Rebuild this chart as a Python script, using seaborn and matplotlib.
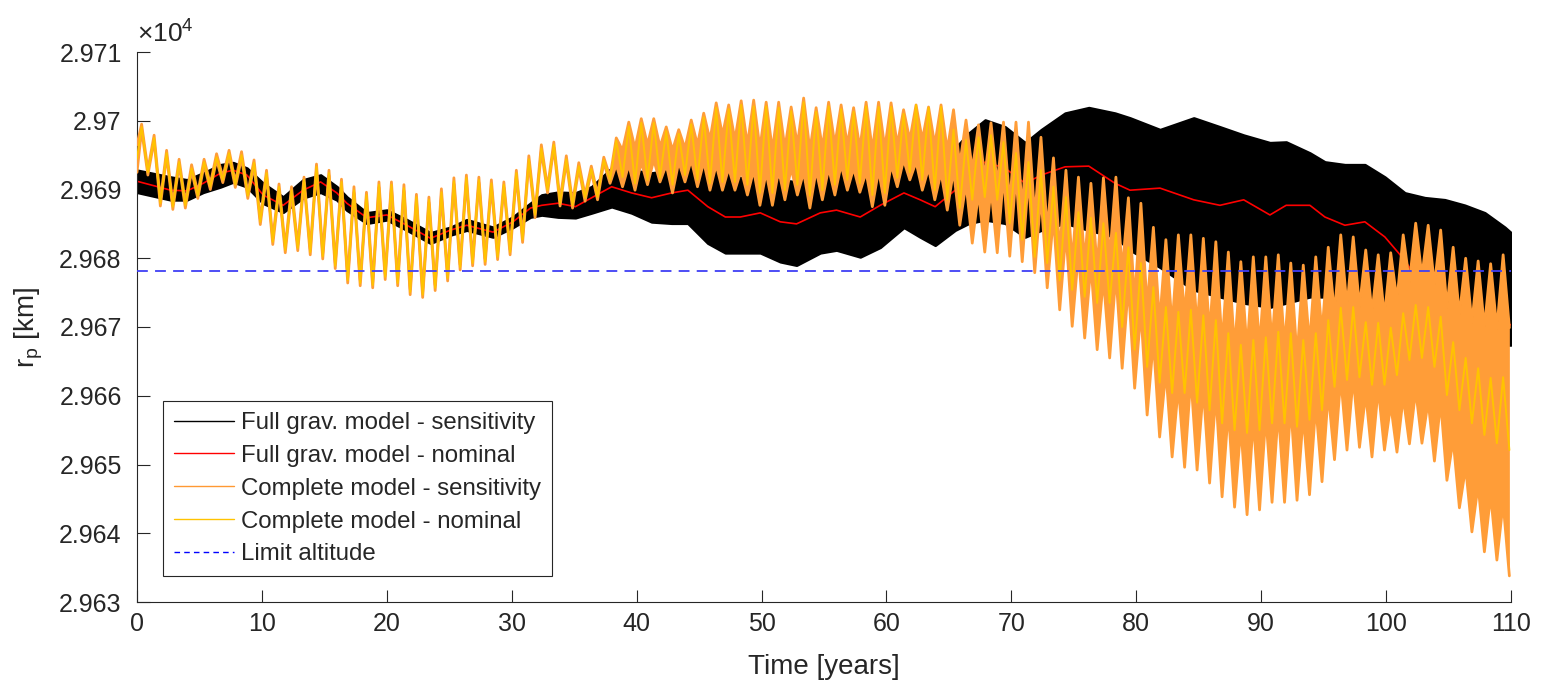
import numpy as np
import matplotlib
matplotlib.use("Agg")
import matplotlib.pyplot as plt
import seaborn as sns
from matplotlib.lines import Line2D

# ---------------- data (km) ----------------
# one oscillation per year: peak at n+0.37, trough at n+0.87
cycle_years = np.arange(110)
peak_offset = 0.37
trough_offset = 0.87

# Complete model - nominal (yellow): peak and trough values per cycle
yellow_peak = [29699.1, 29697.5, 29695.3, 29694.0, 29693.1, 29694.0, 29694.7, 29695.3, 29695.0, 29693.9,
               29692.4, 29690.4, 29689.9, 29691.4, 29693.3, 29692.4, 29691.1, 29689.9, 29689.2, 29690.7,
               29690.7, 29690.2, 29688.9, 29688.5, 29689.6, 29691.2, 29691.7, 29691.4, 29690.9, 29690.7,
               29692.4, 29694.4, 29696.0, 29696.5, 29694.4, 29693.4, 29693.0, 29694.3, 29697.1, 29699.2,
               29699.7, 29699.7, 29698.5, 29698.1, 29699.5, 29700.5, 29701.9, 29701.7, 29702.3, 29702.1,
               29702.1, 29701.9, 29701.4, 29702.7, 29701.3, 29702.1, 29701.7, 29701.3, 29702.1, 29702.0,
               29702.0, 29701.0, 29702.3, 29701.9, 29702.0, 29698.7, 29697.2, 29697.6, 29697.9, 29696.9,
               29695.3, 29694.0, 29692.8, 29690.4, 29688.9, 29686.7, 29685.9, 29685.1, 29683.7, 29681.6,
               29679.3, 29675.8, 29672.9, 29672.2, 29672.5, 29671.7, 29671.0, 29669.1, 29667.4, 29668.1,
               29668.5, 29669.3, 29669.1, 29668.1, 29669.1, 29671.0, 29672.8, 29672.9, 29670.7, 29670.6,
               29669.9, 29672.0, 29673.2, 29672.9, 29671.5, 29667.8, 29665.5, 29664.0, 29662.6, 29662.7]
yellow_trough = [29692.5, 29688.0, 29687.5, 29687.7, 29689.1, 29690.4, 29691.4, 29690.7, 29689.1, 29685.3,
                 29682.4, 29681.2, 29681.5, 29680.9, 29680.3, 29678.9, 29676.8, 29676.4, 29676.1, 29677.3,
                 29676.4, 29675.1, 29674.7, 29675.7, 29677.1, 29678.7, 29679.3, 29679.5, 29680.2, 29680.9,
                 29682.7, 29686.3, 29689.9, 29688.0, 29687.7, 29688.8, 29688.9, 29691.4, 29691.8, 29690.9,
                 29691.4, 29691.7, 29690.7, 29692.1, 29691.4, 29690.9, 29691.1, 29691.1, 29690.7, 29689.5,
                 29689.5, 29689.9, 29690.7, 29689.1, 29689.9, 29690.7, 29691.4, 29690.9, 29689.2, 29689.5,
                 29691.7, 29692.5, 29691.4, 29689.9, 29688.5, 29687.3, 29688.5, 29688.9, 29688.5, 29685.1,
                 29682.7, 29680.2, 29679.3, 29676.8, 29675.4, 29674.4, 29673.5, 29673.5, 29670.0, 29666.7,
                 29664.2, 29661.9, 29660.4, 29660.4, 29659.0, 29657.9, 29656.0, 29655.0, 29654.6, 29655.0,
                 29656.0, 29656.0, 29655.5, 29656.5, 29657.9, 29661.3, 29662.3, 29662.7, 29661.6, 29661.6,
                 29663.0, 29665.2, 29665.5, 29664.2, 29660.1, 29657.9, 29656.0, 29654.3, 29653.1, 29652.1]

# Complete model - sensitivity (orange): upper envelope at peak / trough times
orange_top_peak = [29699.5, 29697.9, 29695.7, 29694.4, 29693.6, 29694.4, 29695.2, 29695.7, 29695.5, 29694.3,
                   29692.8, 29690.8, 29690.4, 29691.8, 29693.7, 29692.8, 29691.5, 29690.4, 29689.6, 29691.1,
                   29691.1, 29690.7, 29689.3, 29688.9, 29690.1, 29691.7, 29692.1, 29691.8, 29691.4, 29691.1,
                   29692.8, 29694.9, 29696.5, 29696.9, 29694.9, 29693.9, 29693.4, 29694.7, 29697.5, 29699.8,
                   29700.3, 29700.3, 29699.1, 29698.7, 29700.1, 29701.1, 29702.6, 29702.3, 29702.9, 29703.0,
                   29702.7, 29702.7, 29702.0, 29703.3, 29701.9, 29702.7, 29702.3, 29701.9, 29702.7, 29702.7,
                   29702.6, 29701.6, 29702.3, 29702.0, 29702.3, 29701.6, 29700.1, 29699.4, 29699.7, 29699.8,
                   29699.8, 29699.8, 29697.6, 29694.6, 29692.8, 29691.8, 29690.9, 29691.7, 29691.8, 29688.8,
                   29688.0, 29684.5, 29682.7, 29683.4, 29683.4, 29682.9, 29682.4, 29680.9, 29679.5, 29680.2,
                   29680.2, 29680.5, 29679.3, 29679.0, 29680.2, 29681.6, 29683.4, 29683.1, 29681.2, 29680.5,
                   29680.8, 29683.4, 29685.1, 29684.8, 29684.1, 29681.6, 29680.0, 29679.6, 29679.2, 29680.5]
orange_top_trough = [29692.9, 29688.4, 29687.9, 29688.1, 29689.5, 29690.8, 29691.8, 29691.1, 29689.5, 29685.7,
                     29682.8, 29681.6, 29681.9, 29681.3, 29680.7, 29679.3, 29677.2, 29676.8, 29676.5, 29677.7,
                     29676.8, 29675.5, 29675.1, 29676.1, 29677.5, 29679.1, 29679.7, 29679.9, 29680.6, 29681.3,
                     29683.1, 29686.7, 29690.3, 29688.4, 29688.1, 29689.2, 29689.3, 29691.8, 29695.7, 29696.0,
                     29696.5, 29696.2, 29695.7, 29696.0, 29696.5, 29697.2, 29697.9, 29697.2, 29696.5, 29696.0,
                     29695.7, 29696.0, 29696.5, 29695.7, 29696.0, 29696.5, 29696.5, 29696.0, 29695.7, 29696.0,
                     29696.5, 29697.2, 29697.2, 29696.5, 29695.7, 29693.6, 29692.8, 29691.7, 29690.7, 29688.0,
                     29687.2, 29686.0, 29684.1, 29681.1, 29679.3, 29679.5, 29678.6, 29680.0, 29678.1, 29673.8,
                     29672.9, 29670.6, 29670.1, 29671.6, 29669.9, 29669.1, 29667.4, 29666.8, 29666.7, 29667.1,
                     29667.7, 29667.2, 29665.6, 29667.4, 29669.0, 29671.9, 29672.9, 29672.9, 29672.0, 29671.5,
                     29673.9, 29676.5, 29677.4, 29676.1, 29672.8, 29671.7, 29670.6, 29669.9, 29669.7, 29669.9]
# lower envelope at peak / trough times
orange_bot_peak = [29698.7, 29697.1, 29694.9, 29693.6, 29692.7, 29693.6, 29694.3, 29694.9, 29694.6, 29693.5,
                   29692.0, 29690.0, 29689.5, 29691.0, 29692.9, 29692.0, 29690.7, 29689.5, 29688.8, 29690.3,
                   29690.3, 29689.8, 29688.5, 29688.1, 29689.2, 29690.8, 29691.3, 29691.0, 29690.5, 29690.3,
                   29692.0, 29694.0, 29695.6, 29696.1, 29694.0, 29693.0, 29692.6, 29693.9, 29693.6, 29693.6,
                   29694.0, 29694.3, 29693.6, 29694.0, 29694.3, 29694.0, 29693.6, 29693.1, 29692.8, 29692.8,
                   29692.5, 29692.8, 29693.1, 29692.5, 29692.8, 29693.1, 29693.6, 29693.1, 29692.5, 29692.8,
                   29693.6, 29694.3, 29694.0, 29693.1, 29692.5, 29692.8, 29690.9, 29689.6, 29690.2, 29692.1,
                   29692.1, 29691.7, 29689.2, 29686.0, 29683.7, 29680.8, 29679.0, 29677.1, 29677.7, 29676.1,
                   29672.3, 29668.0, 29663.6, 29661.4, 29662.7, 29661.1, 29660.3, 29657.9, 29655.5, 29656.5,
                   29657.1, 29657.8, 29658.5, 29657.2, 29658.7, 29660.4, 29662.6, 29662.7, 29660.3, 29661.1,
                   29658.7, 29659.8, 29660.8, 29659.2, 29659.1, 29653.6, 29649.6, 29647.0, 29645.6, 29644.4]
orange_bot_trough = [29692.1, 29687.6, 29687.1, 29687.3, 29688.7, 29690.0, 29691.0, 29690.3, 29688.7, 29684.9,
                     29682.0, 29680.8, 29681.1, 29680.5, 29679.9, 29678.5, 29676.4, 29676.0, 29675.7, 29676.9,
                     29676.0, 29674.7, 29674.3, 29675.3, 29676.7, 29678.3, 29678.9, 29679.1, 29679.8, 29680.5,
                     29682.3, 29685.9, 29689.5, 29687.6, 29687.3, 29688.3, 29688.5, 29690.9, 29690.4, 29689.9,
                     29690.7, 29691.1, 29689.5, 29691.1, 29690.4, 29689.9, 29689.9, 29689.9, 29689.2, 29687.7,
                     29687.7, 29688.5, 29689.2, 29687.3, 29688.5, 29689.2, 29689.9, 29689.6, 29687.5, 29687.7,
                     29690.4, 29691.4, 29689.9, 29688.5, 29687.0, 29684.8, 29682.2, 29680.9, 29680.8, 29680.3,
                     29679.5, 29677.9, 29675.7, 29672.5, 29670.1, 29668.4, 29666.7, 29665.5, 29664.0, 29661.1,
                     29657.2, 29654.0, 29651.1, 29649.6, 29649.2, 29647.3, 29645.3, 29643.8, 29642.7, 29643.4,
                     29644.5, 29644.5, 29644.8, 29645.6, 29647.5, 29650.7, 29652.1, 29652.5, 29651.1, 29652.1,
                     29651.8, 29653.0, 29653.1, 29650.5, 29647.7, 29643.7, 29640.2, 29637.3, 29636.1, 29633.8]
start_yellow = 29694.5
start_orange_top = 29696.5
start_orange_bot = 29692.5

# Full grav. model - sensitivity (black band envelope)
band_t = [0, 2.7, 4, 5.3, 6.7, 7.7, 8.8, 10.1, 11.7, 13.3, 14.7, 16, 16.8, 18.4, 20, 21.6, 23.5, 25.1, 26.4,
          28.5, 30.1, 31.5, 32.4, 33.7, 35.1, 36.4, 38, 39.6, 41.2, 42.8, 44.1, 45.7, 47.1, 48.3, 49.9, 51.5,
          52.8, 54.7, 56, 57.9, 59.5, 61.4, 62.7, 63.9, 65.5, 66.6, 67.9, 69.5, 71.1, 72.4, 74.3, 76.2, 78.3,
          79.5, 81.9, 84.6, 86.7, 88.6, 90.7, 92, 93.9, 95.1, 96.7, 98.3, 99.9, 101.5, 103.1, 104.7, 106.3,
          107.9, 109.5, 110]
black_upper = [29692.8, 29691.8, 29691.4, 29692.4, 29693.6, 29693.9, 29693.1, 29690.9, 29688.9, 29691.4,
               29692.1, 29690.4, 29688.9, 29686.6, 29687.0, 29685.6, 29683.7, 29684.5, 29685.6, 29684.5,
               29686.0, 29688.0, 29689.2, 29689.6, 29689.5, 29690.4, 29693.1, 29692.8, 29692.4, 29692.8,
               29693.9, 29693.3, 29692.4, 29691.7, 29692.1, 29691.4, 29691.1, 29692.5, 29693.1, 29692.4,
               29693.9, 29694.7, 29694.0, 29693.1, 29696.0, 29698.2, 29700.1, 29699.1, 29696.8, 29698.7,
               29701.1, 29701.9, 29701.1, 29700.4, 29698.7, 29700.4, 29699.1, 29697.9, 29696.8, 29696.9,
               29695.3, 29694.0, 29693.6, 29693.6, 29691.8, 29689.5, 29688.8, 29688.5, 29687.7, 29686.6,
               29684.5, 29683.7]
black_lower = [29689.6, 29688.5, 29688.5, 29689.6, 29690.4, 29691.1, 29690.4, 29688.0, 29686.7, 29688.8,
               29689.6, 29688.5, 29687.0, 29685.1, 29685.6, 29684.1, 29682.2, 29683.4, 29684.1, 29683.1,
               29684.5, 29686.0, 29686.3, 29686.0, 29685.9, 29686.6, 29687.5, 29686.6, 29685.3, 29685.1,
               29685.1, 29682.2, 29680.8, 29680.8, 29680.8, 29679.5, 29679.0, 29680.8, 29681.2, 29680.2,
               29681.6, 29684.5, 29683.1, 29681.9, 29684.1, 29685.1, 29685.6, 29685.1, 29683.1, 29684.1,
               29685.1, 29684.1, 29683.1, 29681.2, 29678.7, 29675.4, 29674.4, 29673.5, 29672.9, 29673.5,
               29674.4, 29674.4, 29673.5, 29672.9, 29672.5, 29671.0, 29670.6, 29669.6, 29668.5, 29667.7,
               29667.4, 29667.4]

# Full grav. model - nominal (red)
red_t = [0, 2.7, 4, 5.3, 6.7, 7.7, 8.8, 10.1, 11.7, 13.3, 14.7, 16, 16.8, 18.4, 20, 21.6, 23.5, 25.1, 26.4,
         28.5, 30.1, 31.5, 32.4, 33.7, 35.1, 36.4, 38, 39.6, 41.2, 42.8, 44.1, 45.7, 47.1, 48.3, 49.9, 51.5,
         52.8, 54.7, 56, 57.9, 59.5, 61.4, 62.7, 63.9, 65.5, 66.6, 67.9, 69.5, 71.1, 72.4, 74.3, 76.2, 78.3,
         79.5, 81.9, 84.6, 86.7, 88.6, 90.7, 92, 93.9, 95.1, 96.7, 98.3, 99.9, 101.5, 102, 104, 107, 110]
red_nominal = [29691.2, 29689.9, 29689.8, 29690.9, 29692.4, 29692.8, 29692.1, 29689.2, 29687.7, 29689.9,
               29691.1, 29689.5, 29688.0, 29685.9, 29686.3, 29684.8, 29682.9, 29684.1, 29684.8, 29683.8,
               29685.3, 29687.3, 29687.7, 29688.0, 29687.5, 29688.8, 29690.4, 29689.5, 29688.8, 29689.5,
               29689.9, 29687.5, 29686.0, 29686.0, 29686.6, 29685.3, 29685.0, 29686.6, 29687.0, 29686.0,
               29687.7, 29689.5, 29688.5, 29687.5, 29689.9, 29692.1, 29694.0, 29693.1, 29690.9, 29692.1,
               29693.3, 29693.4, 29690.9, 29689.9, 29690.2, 29688.5, 29687.7, 29688.5, 29686.3, 29687.7,
               29687.7, 29686.0, 29684.8, 29685.3, 29683.1, 29679.7, 29678.3, 29675.4, 29672.2, 29670.3]

limit_altitude = 29678.1

x_ticks = [0, 10, 20, 30, 40, 50, 60, 70, 80, 90, 100, 110]
y_ticks = [29630, 29640, 29650, 29660, 29670, 29680, 29690, 29700, 29710]
y_tick_labels = ["2.963", "2.964", "2.965", "2.966", "2.967", "2.968", "2.969", "2.97", "2.971"]

labels = ["Full grav. model - sensitivity", "Full grav. model - nominal",
          "Complete model - sensitivity", "Complete model - nominal", "Limit altitude"]

# ---------------- build zigzag series ----------------
n = len(cycle_years)
t_zig = np.empty(2 * n)
t_zig[0::2] = cycle_years + peak_offset
t_zig[1::2] = cycle_years + trough_offset
t_zig = np.concatenate([[0.0], t_zig])

def interleave(a, b, start):
    out = np.empty(2 * n)
    out[0::2] = a
    out[1::2] = b
    return np.concatenate([[start], out])

yellow = interleave(yellow_peak, yellow_trough, start_yellow)
o_top = interleave(orange_top_peak, orange_top_trough, start_orange_top)
o_bot = interleave(orange_bot_peak, orange_bot_trough, start_orange_bot)

# ---------------- style ----------------
sns.set_theme(style="ticks")
plt.rcParams["font.family"] = ["Liberation Sans", "DejaVu Sans"]
plt.rcParams["mathtext.fontset"] = "custom"
plt.rcParams["mathtext.rm"] = "Liberation Sans"
plt.rcParams["mathtext.it"] = "Liberation Sans:italic"

c_black = "#000000"
c_red = "#FF0000"
c_orange = "#FF9D38"
c_yellow = "#FFC300"
c_blue = "#3F3FF5"
c_axis = "#262626"

fig = plt.figure(figsize=(15.44, 6.92), dpi=100)
ax = fig.add_axes([137 / 1544, 1 - 602 / 692, 1374 / 1544, 550 / 692])

# black band
ax.fill_between(band_t, black_lower, black_upper, color=c_black, lw=2.0, edgecolor=c_black, zorder=2)

# red nominal (drawn under the orange band)
sns.lineplot(x=red_t, y=red_nominal, ax=ax, color=c_red, lw=1.2, estimator=None, sort=False, zorder=2.5)

# orange band
ax.fill_between(t_zig, o_bot, o_top, color=c_orange, lw=0, zorder=3)
sns.lineplot(x=t_zig, y=o_top, ax=ax, color=c_orange, lw=2.0, estimator=None, sort=False, zorder=3)
sns.lineplot(x=t_zig, y=o_bot, ax=ax, color=c_orange, lw=2.0, estimator=None, sort=False, zorder=3)

# yellow nominal
sns.lineplot(x=t_zig, y=yellow, ax=ax, color=c_yellow, lw=1.4, estimator=None, sort=False, zorder=5)

# limit altitude
ax.axhline(limit_altitude, color=c_blue, lw=1.3, ls=(0, (6, 4)), zorder=6)

ax.set_xlim(0, 110)
ax.set_ylim(29630, 29710)
ax.set_xticks(x_ticks)
ax.set_yticks(y_ticks)
ax.set_yticklabels(y_tick_labels)

for s in ["top", "right"]:
    ax.spines[s].set_visible(False)
for s in ["left", "bottom"]:
    ax.spines[s].set_color(c_axis)
    ax.spines[s].set_linewidth(0.8)

ax.tick_params(axis="both", direction="in", length=9, width=0.8, colors=c_axis, labelsize=18)
ax.tick_params(axis="y", pad=11)
ax.tick_params(axis="x", pad=7)

ax.set_xlabel("Time [years]", fontsize=20, color=c_axis, labelpad=13)
ax.set_ylabel(r"r$_\mathrm{p}$ [km]", fontsize=20, color=c_axis, labelpad=10)

ax.text(0.0, 1.008, r"$\times10^{4}$", transform=ax.transAxes, ha="left", va="bottom",
        fontsize=19, color=c_axis)

handles = [Line2D([], [], color=c_black, lw=1.0),
           Line2D([], [], color=c_red, lw=1.0),
           Line2D([], [], color="#FF9933", lw=1.0),
           Line2D([], [], color=c_yellow, lw=1.0),
           Line2D([], [], color="#0000FF", lw=1.0, ls=(0, (4, 3)))]
leg = ax.legend(handles, labels, loc="lower left", bbox_to_anchor=(0.019, 0.047), borderaxespad=0,
                fontsize=17.3, frameon=True, fancybox=False, framealpha=1, edgecolor=c_axis,
                handlelength=2.5, handletextpad=0.3, labelspacing=0.45, borderpad=0.45)
leg.get_frame().set_linewidth(0.8)
leg.set_zorder(10)

fig.savefig("out.png", dpi=100, facecolor="white")
